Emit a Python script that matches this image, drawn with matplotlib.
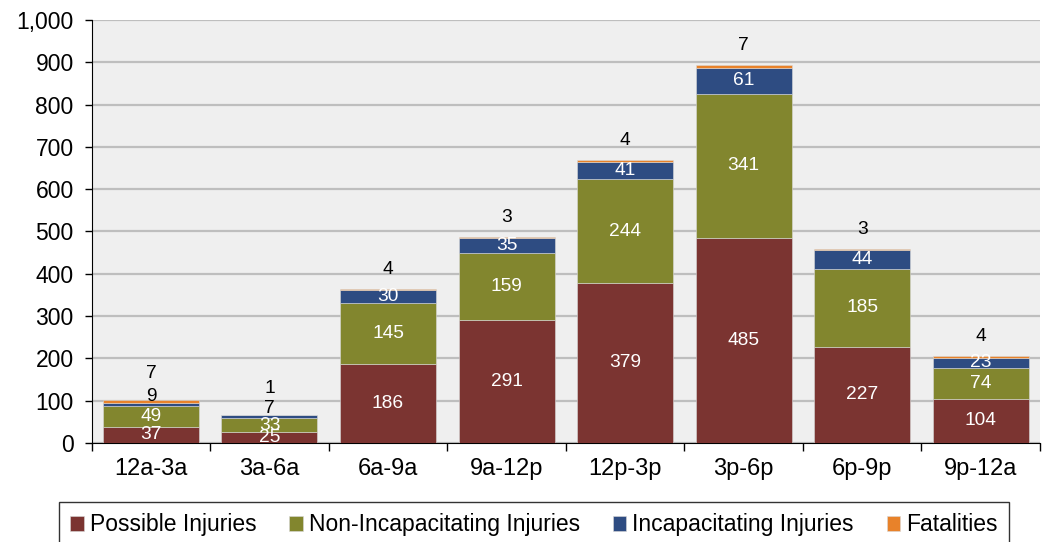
import numpy as np
import matplotlib.pyplot as plt
from matplotlib.ticker import FuncFormatter

plt.rcParams['font.family'] = ['Liberation Sans', 'DejaVu Sans']

# --------------------------------------------------
# Data
# --------------------------------------------------
periods = ["12a-3a", "3a-6a", "6a-9a", "9a-12p", "12p-3p", "3p-6p", "6p-9p", "9p-12a"]
possible = [37, 25, 186, 291, 379, 485, 227, 104]
non_incap = [49, 33, 145, 159, 244, 341, 185, 74]
incap = [9, 7, 30, 35, 41, 61, 44, 23]
fatal = [7, 1, 4, 3, 4, 7, 3, 4]

series_names = ["Possible Injuries", "Non-Incapacitating Injuries",
                "Incapacitating Injuries", "Fatalities"]
colors = ["#7B3431", "#82862E", "#2E4C82", "#E8822A"]

# --------------------------------------------------
# Figure
# --------------------------------------------------
fig = plt.figure(figsize=(10.42, 5.42), dpi=100)
ax = fig.add_axes([0.088, 0.183, 0.91, 0.78])
ax.set_facecolor("#EFEFEF")

x = np.arange(len(periods))
width = 0.81
bottom = np.zeros(len(periods))
data = [possible, non_incap, incap, fatal]

for vals, name, col in zip(data, series_names, colors):
    vals = np.array(vals, dtype=float)
    ax.bar(x, vals, width, bottom=bottom, color=col, label=name,
           edgecolor="#D9D9D9", linewidth=0.4, zorder=3)
    bottom += vals

# --------------------------------------------------
# Labels
# --------------------------------------------------
fs = 13.8
base = np.zeros(len(periods))
for k, vals in enumerate(data):
    for i, v in enumerate(vals):
        mid = base[i] + v / 2
        small = incap[i] < 15
        if k < 2 or (k == 2 and not small):
            ax.text(x[i], mid, str(v), ha="center", va="center",
                    color="white", fontsize=fs, zorder=5)
        elif k == 2:
            ax.annotate(str(v), (x[i], mid), xytext=(0, 6),
                        textcoords="offset points", ha="center",
                        va="center", color="black", fontsize=fs, zorder=5)
        else:
            top = base[i] + v
            off = 19 if small else 14
            ax.annotate(str(v), (x[i], top), xytext=(0, off),
                        textcoords="offset points", ha="center",
                        va="center", color="black", fontsize=fs, zorder=5)
    base += np.array(vals)

# --------------------------------------------------
# Axes styling
# --------------------------------------------------
ax.set_xlim(-0.5, len(periods) - 0.5)
ax.set_ylim(0, 1000)
ax.set_yticks(np.arange(0, 1001, 100))
ax.yaxis.set_major_formatter(FuncFormatter(lambda v, p: f"{int(v):,}"))
ax.yaxis.grid(True, color="#BEBEBE", linewidth=1.6, zorder=0)
ax.set_axisbelow(True)

ax.set_xticks(x)
ax.set_xticklabels(periods)
ax.set_xticks(np.arange(-0.5, len(periods)), minor=True)
ax.tick_params(axis="x", which="major", length=0, labelsize=17, pad=11)
ax.tick_params(axis="x", which="minor", length=6, width=1, direction="out")
ax.tick_params(axis="y", length=5, width=1, direction="out", labelsize=16.5, pad=8)

for s in ["top", "right"]:
    ax.spines[s].set_visible(False)
ax.spines["left"].set_color("black")
ax.spines["bottom"].set_color("black")

leg = fig.legend(loc="upper left", bbox_to_anchor=(0.0566, -0.2, 0.9117, 0.2738),
                 mode="expand", ncol=4, fontsize=16.5, frameon=True,
                 fancybox=False, edgecolor="black", handlelength=0.6,
                 handleheight=0.6, handletextpad=0.25, columnspacing=1.0,
                 borderaxespad=0, borderpad=0.5)
leg.get_frame().set_linewidth(1.0)

fig.savefig("out.png", dpi=100)
